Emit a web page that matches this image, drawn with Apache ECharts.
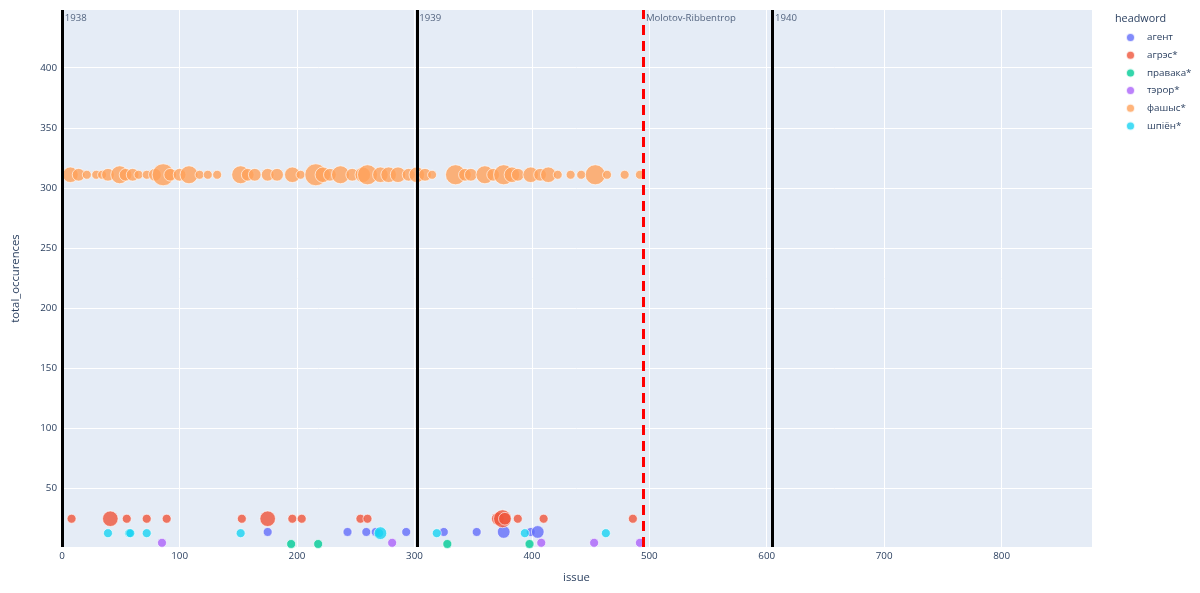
<!DOCTYPE html>
<html>
<head>
<meta charset="utf-8">
<script src="https://cdn.jsdelivr.net/npm/echarts@6/dist/echarts.min.js"></script>
<style>html,body{margin:0;padding:0;background:#fff}#c{width:1200px;height:593px}</style>
</head>
<body>
<div id="c"></div>
<script>
// ---- data ----
const headwords = ['агент', 'агрэс*', 'правака*', 'тэрор*', 'фашыс*', 'шпіён*'];
const totalOccurences = [14, 25, 4, 5, 311, 13];

const agentIssues = [175, 243, 259, 267, 293, 325, 353, 376, 399, 405];
const agentCounts = [1, 1, 1, 1, 1, 1, 1, 2, 1, 2];

const agresIssues = [8, 41, 55, 72, 89, 153, 175, 196, 204, 254, 260, 371, 375, 377, 388, 410, 486];
const agresCounts = [1, 3, 1, 1, 1, 1, 3, 1, 1, 1, 1, 2, 4, 2, 1, 1, 1];

const pravakaIssues = [195, 218, 328, 398];
const pravakaCounts = [1, 1, 1, 1];

const terorIssues = [85, 281, 408, 453, 492];
const terorCounts = [1, 1, 1, 1, 1];

const fashysIssues = [7, 14, 21, 29, 34, 39, 49, 54, 60, 65, 72, 79, 86, 92, 100, 108, 117, 124, 132,
  152, 158, 164, 175, 183, 196, 203, 216, 222, 228, 237, 247, 256, 260,
  271, 278, 286, 295, 302, 309, 315, 335, 343, 348, 360, 367, 376, 383, 388, 399, 407, 414, 422, 433, 442, 454, 464, 479, 492];
const fashysCounts = [3, 2, 1, 1, 1, 2, 4, 2, 2, 1, 1, 2, 6, 2, 2, 4, 1, 1, 1,
  4, 2, 2, 2, 2, 3, 1, 6, 3, 2, 4, 2, 3, 5,
  3, 3, 3, 2, 3, 2, 1, 5, 2, 2, 4, 2, 5, 3, 2, 3, 2, 3, 1, 1, 1, 5, 1, 1, 1];

const shpionIssues = [39, 57, 58, 72, 152, 270, 271, 319, 394, 463];
const shpionCounts = [1, 1, 1, 1, 1, 1, 2, 1, 1, 1];

const eventIssues = [0, 302, 605, 495];
const eventLabels = ['1938', '1939', '1940', 'Molotov-Ribbentrop'];
const eventKinds = ['year', 'year', 'year', 'pact'];

const xTicks = [0, 100, 200, 300, 400, 500, 600, 700, 800];
const yTicks = [50, 100, 150, 200, 250, 300, 350, 400];

// ---- styling ----
const colors = ['#636efa', '#EF553B', '#00cc96', '#ab63fa', '#FFA15A', '#19d3f3'];
const issuesBy = [agentIssues, agresIssues, pravakaIssues, terorIssues, fashysIssues, shpionIssues];
const countsBy = [agentCounts, agresCounts, pravakaCounts, terorCounts, fashysCounts, shpionCounts];
const maxCount = 6;
const textColor = '#2a3f5f';
const font = '"Open Sans", Verdana, Arial, sans-serif';
const X_MIN = -1, X_MAX = 877, Y_MIN = 1.5, Y_MAX = 448;

const series = headwords.map((h, i) => ({
  name: h,
  type: 'scatter',
  data: issuesBy[i].map((x, k) => [x, totalOccurences[i], countsBy[i][k]]),
  symbolSize: v => 22 * Math.sqrt(v[2] / maxCount),
  itemStyle: { color: colors[i], opacity: 0.8, borderColor: '#ffffff', borderWidth: 0.8 },
  emphasis: { disabled: true },
  z: 2
}));

series.push({
  name: 'events',
  type: 'scatter',
  clip: false,
  data: eventIssues.map((x, i) => ({ value: [x, Y_MAX], label: { formatter: eventLabels[i] } })),
  symbolSize: 1,
  itemStyle: { color: 'rgba(0,0,0,0)' },
  label: { show: true, position: [3, 9], align: 'left', verticalAlign: 'middle', color: textColor, fontSize: 9.6, fontFamily: font },
  labelLayout: { hideOverlap: false },
  markLine: {
    silent: true,
    symbol: ['none', 'none'],
    label: { show: false },
    data: eventIssues.map((x, i) => ({
      xAxis: x,
      lineStyle: eventKinds[i] === 'year'
        ? { color: '#000000', width: 3, type: 'solid' }
        : { color: '#ff0000', width: 3, type: [10, 6] }
    }))
  },
  z: 5
});

const chart = echarts.init(document.getElementById('c'));
chart.setOption({
  animation: false,
  backgroundColor: '#ffffff',
  textStyle: { fontFamily: font },
  title: {
    text: 'headword', left: 1110, top: 8,
    textStyle: { fontSize: 10.8, fontWeight: 'normal', color: textColor, fontFamily: font }
  },
  legend: {
    data: headwords,
    orient: 'vertical',
    left: 1120, top: 27,
    icon: 'circle',
    itemWidth: 9, itemHeight: 9,
    itemGap: 6.7,
    textStyle: { fontSize: 9.8, lineHeight: 10, color: textColor, fontFamily: font, padding: [0, 0, 0, 7] }
  },
  grid: { left: 61, right: 108, top: 10, bottom: 46, show: true, backgroundColor: '#E5ECF6', borderWidth: 0, outerBoundsMode: 'none', containLabel: false },
  xAxis: {
    type: 'value', min: X_MIN, max: X_MAX,
    name: 'issue', nameLocation: 'middle', nameGap: 25,
    nameTextStyle: { fontSize: 11.3, color: textColor, fontFamily: font },
    axisLine: { show: false }, axisTick: { show: false, customValues: xTicks },
    axisLabel: { customValues: xTicks, color: textColor, fontSize: 9.8, margin: 4, fontFamily: font },
    splitLine: { show: true, lineStyle: { color: '#ffffff', width: 1 } }
  },
  yAxis: {
    type: 'value', min: Y_MIN, max: Y_MAX,
    name: 'total_occurences', nameLocation: 'middle', nameGap: 40,
    nameTextStyle: { fontSize: 11.3, color: textColor, fontFamily: font },
    axisLine: { show: false }, axisTick: { show: false, customValues: yTicks },
    axisLabel: { customValues: yTicks, color: textColor, fontSize: 9.8, margin: 4, fontFamily: font },
    splitLine: { show: true, lineStyle: { color: '#ffffff', width: 1 } }
  },
  series: series
});
</script>
</body>
</html>
